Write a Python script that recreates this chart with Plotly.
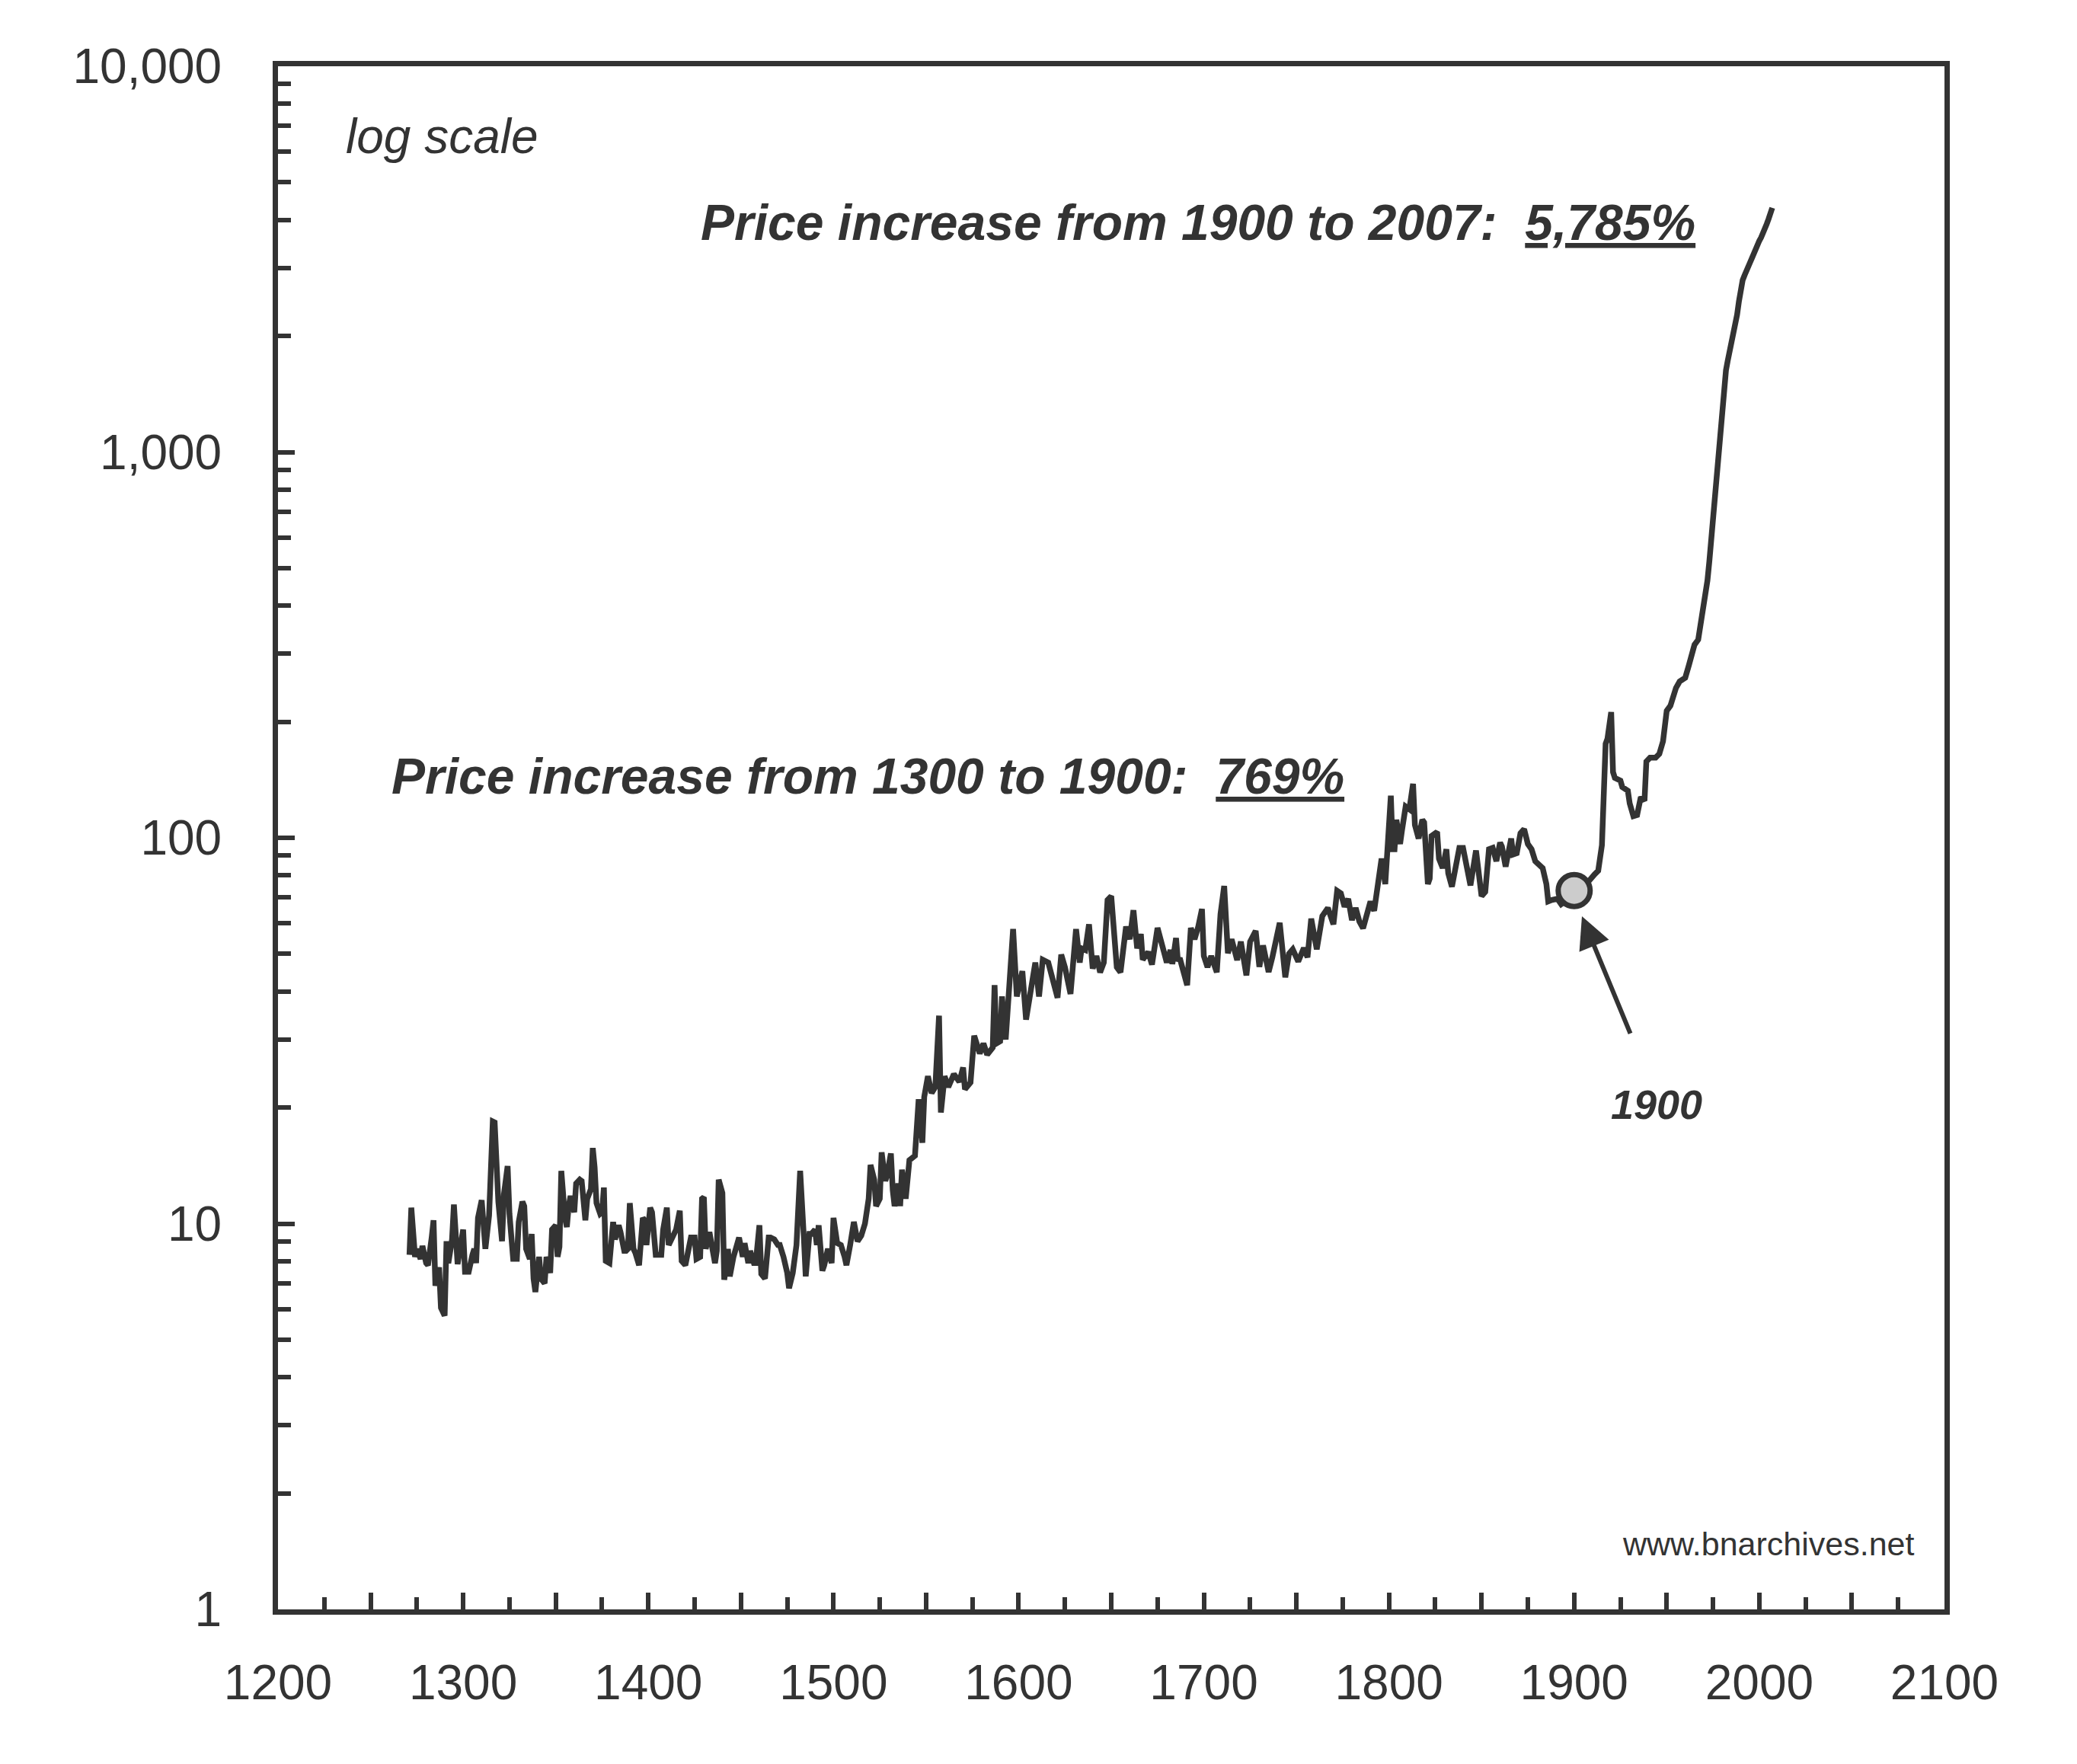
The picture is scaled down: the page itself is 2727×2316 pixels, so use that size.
import math
import plotly.graph_objects as go

# ---------------- data ----------------
years = [
    1271, 1272, 1274, 1275, 1277, 1278, 1280, 1281, 1283, 1284, 1285, 1287, 1288, 1290,
    1291, 1292, 1294, 1295, 1297, 1298, 1300, 1301, 1303, 1305, 1306, 1307, 1308, 1310,
    1312, 1314, 1316, 1317, 1319, 1321, 1322, 1324, 1325, 1327, 1329, 1330, 1332, 1333,
    1334, 1336, 1337, 1338, 1339, 1341, 1342, 1344, 1345, 1347, 1348, 1350, 1351, 1352,
    1353, 1355, 1356, 1357, 1358, 1360, 1361, 1363, 1364, 1366, 1367, 1369, 1370, 1371,
    1372, 1374, 1375, 1376, 1377, 1379, 1381, 1382, 1384, 1385, 1387, 1388, 1389, 1390,
    1392, 1393, 1395, 1397, 1398, 1399, 1401, 1402, 1404, 1405, 1407, 1408, 1410, 1411,
    1413, 1415, 1417, 1418, 1420, 1421, 1423, 1425, 1426, 1428, 1429, 1430, 1431, 1433,
    1434, 1436, 1437, 1438, 1440, 1441, 1443, 1444, 1446, 1448, 1449, 1451, 1452, 1454,
    1455, 1457, 1458, 1460, 1461, 1463, 1465, 1466, 1468, 1470, 1471, 1473, 1475, 1476,
    1478, 1480, 1481, 1482, 1484, 1485, 1487, 1488, 1490, 1491, 1492, 1494, 1495, 1497,
    1499, 1500, 1502, 1504, 1506, 1507, 1509, 1511, 1513, 1515, 1517, 1519, 1520, 1522,
    1523, 1525, 1526, 1528, 1529, 1531, 1532, 1533, 1535, 1536, 1537, 1539, 1541, 1544,
    1546, 1548, 1549, 1551, 1553, 1555, 1557, 1558, 1560, 1562, 1565, 1568, 1570, 1571,
    1574, 1576, 1579, 1581, 1583, 1586, 1587, 1588, 1590, 1591, 1593, 1595, 1597, 1599,
    1602, 1604, 1606, 1609, 1611, 1613, 1616, 1619, 1621, 1623, 1625, 1628, 1631, 1633,
    1634, 1636, 1638, 1640, 1642, 1644, 1646, 1648, 1650, 1653, 1655, 1658, 1660, 1662,
    1664, 1666, 1667, 1670, 1672, 1675, 1677, 1678, 1680, 1682, 1683, 1685, 1686, 1687,
    1691, 1693, 1695, 1697, 1699, 1700, 1702, 1704, 1707, 1709, 1711, 1713, 1715, 1718,
    1720, 1723, 1725, 1728, 1730, 1732, 1735, 1737, 1741, 1744, 1746, 1748, 1751, 1754,
    1756, 1758, 1761, 1764, 1767, 1770, 1772, 1774, 1776, 1778, 1780, 1782, 1784, 1786,
    1789, 1790, 1792, 1794, 1796, 1798, 1799, 1801, 1802, 1803, 1804, 1806, 1807, 1809,
    1811, 1812, 1813, 1814, 1816, 1818, 1819, 1821, 1822, 1823, 1826, 1827, 1829, 1831,
    1832, 1834, 1836, 1838, 1840, 1842, 1844, 1847, 1849, 1850, 1852, 1854, 1856, 1858,
    1860, 1861, 1863, 1866, 1867, 1869, 1871, 1873, 1875, 1877, 1879, 1881, 1883, 1885,
    1886, 1888, 1891, 1893, 1896, 1900, 1903, 1906, 1908, 1911, 1913, 1915, 1916, 1917,
    1918, 1920, 1921, 1922, 1925, 1926, 1929, 1930, 1932, 1934, 1936, 1938, 1939, 1941,
    1944, 1946, 1948, 1950, 1952, 1954, 1955, 1957, 1960, 1962, 1964, 1965, 1967, 1968,
    1969, 1970, 1971, 1972, 1973, 1974, 1975, 1976, 1977, 1978, 1979, 1980, 1981, 1982,
    1983, 1984, 1985, 1986, 1987, 1988, 1989, 1990, 1991, 1992, 1993, 1994, 1995, 1996,
    1997, 1998, 1999, 2000, 2001, 2002, 2003, 2004, 2005, 2006, 2007,
]

prices = [
    8.3, 11.0, 8.2, 8.6, 8.1, 8.75, 7.9, 7.8, 9.2, 10.2, 6.9, 7.7, 6.05, 5.77,
    9.0, 7.9, 9.1, 11.2, 7.85, 8.6, 9.65, 7.5, 7.5, 8.3, 8.6, 7.9, 10.35, 11.5,
    8.6, 10.5, 18.4, 18.3, 11.4, 9.0, 11.9, 14.1, 10.6, 8.1, 8.1, 10.1, 11.4, 11.1,
    8.6, 8.1, 9.4, 7.2, 6.65, 8.2, 7.2, 7.0, 8.2, 7.45, 9.65, 9.9, 8.2, 8.7,
    13.7, 10.35, 9.8, 11.1, 11.8, 10.7, 12.7, 13.0, 12.9, 10.2, 11.6, 12.3, 15.7, 14.0,
    11.3, 10.6, 10.7, 12.4, 8.0, 7.9, 10.1, 9.1, 9.9, 9.5, 8.5, 8.5, 8.6, 11.3,
    8.6, 8.4, 7.8, 10.35, 10.2, 8.8, 11.0, 10.7, 8.3, 8.3, 8.3, 9.65, 11.0, 8.8,
    9.2, 9.65, 10.8, 8.0, 7.8, 8.2, 9.2, 9.2, 8.1, 8.2, 11.6, 11.7, 8.6, 9.5,
    9.0, 7.9, 8.5, 13.0, 12.0, 7.15, 8.6, 7.3, 8.2, 8.9, 9.2, 8.2, 8.9, 7.9,
    8.5, 7.9, 7.9, 9.9, 7.4, 7.2, 9.2, 9.2, 9.1, 8.8, 8.8, 8.2, 7.45, 6.8,
    7.45, 8.8, 12.2, 13.7, 9.2, 7.3, 9.4, 9.4, 9.65, 8.8, 9.9, 7.55, 7.8, 8.6,
    7.9, 10.35, 8.9, 8.8, 8.2, 7.8, 8.8, 10.1, 9.0, 9.3, 10.0, 11.6, 14.2, 13.0,
    11.1, 11.6, 15.3, 12.9, 13.4, 15.2, 12.2, 11.1, 12.7, 11.1, 13.8, 11.6, 14.6, 15.0,
    21.0, 16.2, 21.3, 24.1, 21.8, 22.6, 34.6, 19.4, 24.1, 22.6, 24.4, 23.3, 25.4, 22.3,
    23.2, 30.7, 27.6, 29.3, 27.4, 28.6, 41.5, 29.3, 29.7, 38.8, 30.0, 43.4, 58.0, 38.8,
    45.1, 33.8, 39.1, 47.5, 38.8, 48.3, 47.5, 42.2, 38.5, 49.8, 46.2, 39.4, 58.0, 47.5,
    51.7, 51.2, 59.7, 45.8, 49.4, 44.8, 47.5, 69.0, 70.6, 46.2, 44.8, 58.9, 54.6, 64.9,
    51.7, 56.3, 48.3, 50.6, 46.9, 58.4, 53.3, 50.2, 47.5, 51.2, 47.1, 55.0, 47.9, 48.8,
    41.5, 58.4, 54.6, 58.9, 65.4, 49.4, 46.2, 49.4, 44.8, 63.4, 75.0, 50.2, 54.6, 48.2,
    53.8, 44.0, 53.8, 57.4, 46.3, 52.6, 44.9, 49.0, 60.2, 43.5, 50.1, 51.4, 47.8, 51.8,
    49.0, 61.7, 51.4, 62.7, 65.8, 59.7, 72.9, 71.8, 66.3, 69.5, 61.2, 65.8, 60.7, 58.3,
    66.3, 68.4, 64.7, 78.4, 88.3, 75.9, 90.5, 128.6, 93.4, 93.4, 111.4, 96.4, 104.4, 120.5,
    118.6, 126.4, 138.0, 107.9, 99.6, 111.4, 109.6, 75.9, 78.4, 101.2, 103.6, 88.3, 83.5, 93.4,
    80.9, 74.7, 84.9, 94.2, 94.2, 82.2, 75.3, 92.7, 79.6, 70.6, 72.4, 93.4, 94.2, 87.0,
    97.2, 94.9, 84.2, 99.6, 90.5, 91.2, 102.8, 105.3, 96.4, 93.4, 87.0, 84.9, 83.5, 75.9,
    68.4, 69.0, 69.5, 67.3, 69.0, 73.0, 74.0, 76.0, 77.3, 80.4, 82.2, 95.7, 125.6, 175.4,
    180.7, 211.8, 148.0, 143.0, 140.7, 135.4, 132.4, 122.8, 113.8, 114.6, 127.6, 124.8, 157.7, 161.4,
    161.4, 165.0, 177.9, 213.5, 220.0, 237.4, 244.6, 254.3, 260.0, 280.5, 302.6, 316.6, 326.3, 350.0,
    372.0, 390.0, 425.0, 465.0, 520.0, 590.0, 700.0, 810.0, 930.0, 1020.0, 1170.0, 1370.0, 1530.0, 1630.0,
    1730.0, 1820.0, 1950.0, 2040.0, 2150.0, 2270.0, 2460.0, 2640.0, 2790.0, 2870.0, 2930.0, 3000.0, 3100.0, 3180.0,
    3280.0, 3380.0, 3450.0, 3530.0, 3600.0, 3680.0, 3800.0, 3900.0, 4020.0, 4150.0, 4296.0,
]

highlight_year = 1900
highlight_value = prices[years.index(highlight_year)]

x_tick_values = list(range(1200, 2101, 50))
x_tick_text = [str(v) if v % 100 == 0 else "" for v in x_tick_values]

title_top = "Price increase from 1900 to 2007:\u00a0 <u>5,785%</u>"
title_mid = "Price increase from 1300 to 1900:\u00a0 <u>769%</u>"

# ---------------- figure ----------------
INK = "#333333"
FONT = "Liberation Sans, Arial, Helvetica, sans-serif"

W, H = 2727, 2316
ML, MR, MT, MB = 365, 174, 87, 203
PW, PH = W - ML - MR, H - MT - MB


def px_x(px):
    return (px - ML) / PW


def px_y(py):
    return (H - MB - py) / PH


fig = go.Figure()
fig.add_trace(go.Scatter(
    x=years, y=prices, mode="lines",
    line=dict(color=INK, width=7.5),
    hoverinfo="skip", showlegend=False,
))
fig.add_trace(go.Scatter(
    x=[highlight_year], y=[highlight_value], mode="markers",
    marker=dict(size=42, color="#cccccc", line=dict(color=INK, width=7)),
    hoverinfo="skip", showlegend=False,
))

fig.update_layout(
    width=W, height=H,
    margin=dict(l=ML, r=MR, t=MT, b=MB, pad=0),
    paper_bgcolor="white", plot_bgcolor="white",
    font=dict(family=FONT, color=INK, size=64),
    showlegend=False,
)

fig.update_xaxes(
    range=[1200, 2100],
    showgrid=False, zeroline=False,
    showline=True, linewidth=7, linecolor=INK, mirror=True,
    tickmode="array", tickvals=x_tick_values, ticktext=x_tick_text,
    ticks="inside", ticklen=22, tickwidth=6, tickcolor=INK,
    ticklabelstandoff=34,
    tickfont=dict(size=64, color=INK, family=FONT),
    minor=dict(tickmode="linear", tick0=1200, dtick=25, ticks="inside",
               ticklen=16, tickwidth=6, tickcolor=INK, showgrid=False),
)

fig.update_yaxes(
    type="log", range=[0, 4],
    showgrid=False, zeroline=False,
    showline=True, linewidth=7, linecolor=INK, mirror=True,
    dtick=1, tickformat=",",
    ticks="inside", ticklen=22, tickwidth=6, tickcolor=INK,
    ticklabelstandoff=54,
    tickfont=dict(size=64, color=INK, family=FONT),
    minor=dict(dtick="D1", ticks="inside", ticklen=17, tickwidth=6,
               tickcolor=INK, showgrid=False),
)

annotations = [
    dict(text="log scale", x=px_x(452), y=px_y(179), xref="paper", yref="paper",
         xanchor="left", yanchor="middle", showarrow=False,
         font=dict(size=64, style="italic", color=INK, family=FONT)),
    dict(text=title_top, x=px_x(918), y=px_y(292), xref="paper", yref="paper",
         xanchor="left", yanchor="middle", showarrow=False,
         font=dict(size=66, style="italic", weight="bold", color=INK, family=FONT)),
    dict(text=title_mid, x=px_x(512), y=px_y(1019), xref="paper", yref="paper",
         xanchor="left", yanchor="middle", showarrow=False,
         font=dict(size=66, style="italic", weight="bold", color=INK, family=FONT)),
    dict(text="1900", x=px_x(2175), y=px_y(1450), xref="paper", yref="paper",
         xanchor="center", yanchor="middle", showarrow=False,
         font=dict(size=54, style="italic", weight="bold", color=INK, family=FONT)),
    dict(text="www.bnarchives.net", x=px_x(2515), y=px_y(2027), xref="paper", yref="paper",
         xanchor="right", yanchor="middle", showarrow=False,
         font=dict(size=43, color=INK, family=FONT)),
    dict(text="", x=1904.2, y=math.log10(62.6), xref="x", yref="y",
         ax=1930.6, ay=math.log10(30.9), axref="x", ayref="y",
         showarrow=True, arrowhead=2, arrowsize=1.4, arrowwidth=6,
         arrowcolor=INK, standoff=0, startstandoff=0),
]
fig.update_layout(annotations=annotations)

fig.write_html("out.html")
